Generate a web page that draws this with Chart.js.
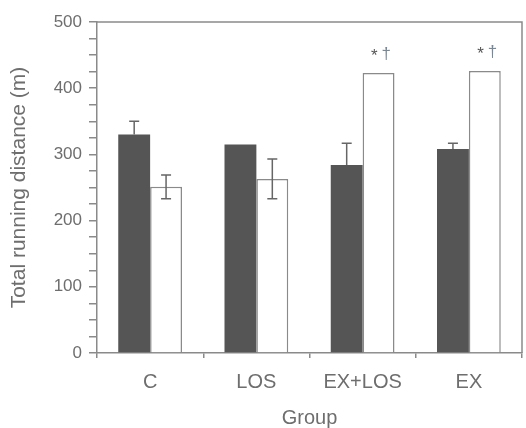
<!DOCTYPE html>
<html>
<head>
<meta charset="utf-8">
<script src="https://cdn.jsdelivr.net/npm/chart.js@4/dist/chart.umd.min.js"></script>
<style>
  html, body { margin: 0; padding: 0; background: #fff; }
  #wrap { width: 526px; height: 428px; }
</style>
</head>
<body>
<div id="wrap"><canvas id="c" width="526" height="428"></canvas></div>
<script>
// Groups on the x axis
const groups = ['C', 'LOS', 'EX+LOS', 'EX'];

// Total running distance (m), first bar of each pair (dark)
const darkValues = [330, 315, 284, 308];
const darkErrors = [20, 0, 33, 9];

// Total running distance (m), second bar of each pair (open)
const openValues = [251, 263, 423, 426];
const openErrors = [18, 30, 0, 0];

// Significance marks above the open bars
const openMarks = ['', '', '*†', '*†'];

// Y axis range and tick spacing
const yMin = 0;
const yMax = 500;
const yStep = 25;
const yLabelStep = 100;

const textColor = '#6e6e6e';
const axisColor = '#8a8a8a';
const fontFamily = '"Liberation Sans", Arial, Helvetica, sans-serif';

// Error bars: dark bars only show the upper whisker, open bars show both
const errorBarPlugin = {
  id: 'errorBars',
  afterDatasetsDraw(chart) {
    const ctx = chart.ctx;
    const y = chart.scales.y;
    ctx.save();
    ctx.strokeStyle = '#666';
    ctx.lineWidth = 1.5;
    chart.data.datasets.forEach((ds, di) => {
      const meta = chart.getDatasetMeta(di);
      meta.data.forEach((bar, i) => {
        const err = ds.errors[i];
        if (!err) return;
        const v = ds.data[i];
        const yTop = y.getPixelForValue(v + err);
        const yBot = ds.bothWhiskers ? y.getPixelForValue(v - err) : y.getPixelForValue(v);
        const cap = 5;
        ctx.beginPath();
        ctx.moveTo(bar.x, yTop);
        ctx.lineTo(bar.x, yBot);
        ctx.moveTo(bar.x - cap, yTop);
        ctx.lineTo(bar.x + cap, yTop);
        if (ds.bothWhiskers) {
          ctx.moveTo(bar.x - cap, yBot);
          ctx.lineTo(bar.x + cap, yBot);
        }
        ctx.stroke();
      });
    });

    // significance marks
    const openMeta = chart.getDatasetMeta(1);
    ctx.font = '17px ' + fontFamily;
    ctx.textBaseline = 'middle';
    openMeta.data.forEach((bar, i) => {
      const mark = openMarks[i];
      if (!mark) return;
      const yy = y.getPixelForValue(openValues[i]) - 19;
      ctx.textAlign = 'right';
      ctx.fillStyle = '#555';
      ctx.fillText(mark[0], bar.x - 1, yy + 2);
      ctx.textAlign = 'left';
      ctx.fillStyle = '#7b8792';
      ctx.fillText(mark.slice(1), bar.x + 3, yy);
    });
    ctx.restore();
  }
};

// Top and right border of the plot frame
const framePlugin = {
  id: 'frame',
  afterDraw(chart) {
    const a = chart.chartArea;
    const ctx = chart.ctx;
    ctx.save();
    ctx.strokeStyle = axisColor;
    ctx.lineWidth = 1.5;
    ctx.beginPath();
    ctx.moveTo(a.left, a.top);
    ctx.lineTo(a.right, a.top);
    ctx.lineTo(a.right, a.bottom);
    ctx.stroke();
    ctx.restore();
  }
};

new Chart(document.getElementById('c'), {
  type: 'bar',
  data: {
    labels: groups,
    datasets: [
      {
        data: darkValues,
        errors: darkErrors,
        bothWhiskers: false,
        backgroundColor: '#555555',
        borderWidth: 0,
        categoryPercentage: 0.6,
        barPercentage: 1.0
      },
      {
        data: openValues,
        errors: openErrors,
        bothWhiskers: true,
        backgroundColor: '#ffffff',
        borderColor: axisColor,
        borderWidth: 1.5,
        categoryPercentage: 0.6,
        barPercentage: 1.0
      }
    ]
  },
  options: {
    responsive: false,
    animation: false,
    devicePixelRatio: 1,
    layout: { padding: { top: 22, right: 4, left: 0, bottom: 0 } },
    plugins: {
      legend: { display: false },
      tooltip: { enabled: false }
    },
    scales: {
      x: {
        afterFit(s) { s.height = 75; },
        grid: {
          display: true,
          drawOnChartArea: false,
          drawTicks: true,
          tickLength: 5,
          color: axisColor,
          offset: true,
          lineWidth: 1.5
        },
        border: { display: true, color: axisColor, width: 1.5 },
        ticks: {
          color: textColor,
          font: { family: fontFamily, size: 20 },
          padding: 12
        },
        title: {
          display: true,
          text: 'Group',
          color: textColor,
          font: { family: fontFamily, size: 20, lineHeight: 1 },
          padding: { top: 0, bottom: 0 }
        }
      },
      y: {
        min: yMin,
        max: yMax,
        afterFit(s) { s.width = 97; },
        afterBuildTicks(s) {
          const t = [];
          for (let v = yMin; v <= yMax; v += yStep) t.push({ value: v });
          s.ticks = t;
        },
        grid: {
          display: true,
          drawOnChartArea: false,
          drawTicks: true,
          tickLength: 8,
          color: axisColor,
          lineWidth: 1.5
        },
        border: { display: true, color: axisColor, width: 1.5 },
        ticks: {
          stepSize: yStep,
          autoSkip: false,
          color: textColor,
          font: { family: fontFamily, size: 17 },
          padding: 7,
          callback: (v) => (v % yLabelStep === 0 ? String(v) : '')
        },
        title: {
          display: true,
          text: 'Total running distance (m)',
          color: textColor,
          font: { family: fontFamily, size: 21 },
          padding: { top: 7, bottom: 0 }
        }
      }
    }
  },
  plugins: [errorBarPlugin, framePlugin]
});
</script>
</body>
</html>
